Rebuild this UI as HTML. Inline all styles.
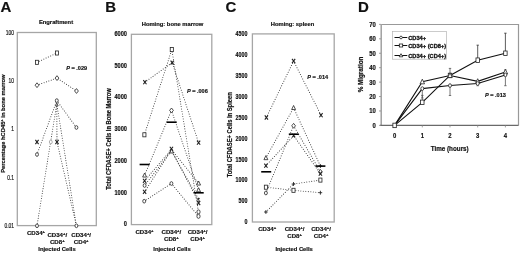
<!DOCTYPE html>
<html><head><meta charset="utf-8"><style>
html,body{margin:0;padding:0;background:#fff;width:520px;height:253px;overflow:hidden}
svg{display:block;filter:grayscale(1)}
text{font-family:"Liberation Sans",sans-serif;fill:#111;stroke:#111;stroke-width:0.18px}
</style></head><body>
<svg width="520" height="253" viewBox="0 0 520 253">
<text x="0.5" y="11.5" text-anchor="start" font-size="15" font-weight="bold" >A</text>
<text x="105.2" y="11.5" text-anchor="start" font-size="15" font-weight="bold" >B</text>
<text x="225.4" y="11.5" text-anchor="start" font-size="15" font-weight="bold" >C</text>
<text x="358.1" y="11.5" text-anchor="start" font-size="15" font-weight="bold" >D</text>
<text x="56" y="23.9" text-anchor="middle" font-size="5.8" font-weight="bold" >Engraftment</text>
<rect x="17.3" y="32.5" width="79.0" height="193.1" fill="none" stroke="#a6a6a6" stroke-width="1.3"/>
<text transform="translate(14 34.9) scale(0.74 1)" text-anchor="end" font-size="6.7" font-weight="normal">100</text>
<text transform="translate(14 83.2) scale(0.74 1)" text-anchor="end" font-size="6.7" font-weight="normal">10</text>
<text transform="translate(14 131.4) scale(0.74 1)" text-anchor="end" font-size="6.7" font-weight="normal">1</text>
<text transform="translate(14 179.6) scale(0.74 1)" text-anchor="end" font-size="6.7" font-weight="normal">0.1</text>
<text transform="translate(14 227.9) scale(0.74 1)" text-anchor="end" font-size="6.7" font-weight="normal">0.01</text>
<text x="0" y="0" text-anchor="middle" font-size="5.8" font-weight="bold" transform="translate(5.2 123.7) rotate(-90)">Percentage hCD45<tspan font-size="4" dy="-2">+</tspan><tspan dy="2"> in bone marrow</tspan></text>
<path d="M37 62.3L57 53" fill="none" stroke="#3a3a3a" stroke-width="1.05" stroke-linecap="round" stroke-dasharray="0.01 2.5"/>
<path d="M37 85.2L57 78.1L76.5 91" fill="none" stroke="#3a3a3a" stroke-width="1.05" stroke-linecap="round" stroke-dasharray="0.01 2.5"/>
<path d="M37 154.5L56.8 100.6L76.4 127.5" fill="none" stroke="#3a3a3a" stroke-width="1.05" stroke-linecap="round" stroke-dasharray="0.01 2.5"/>
<path d="M37 225.8L56.8 104L76.4 225.8" fill="none" stroke="#3a3a3a" stroke-width="1.05" stroke-linecap="round" stroke-dasharray="0.01 2.5"/>
<path d="M56.8 104L57 142L76.4 225.8" fill="none" stroke="#3a3a3a" stroke-width="1.05" stroke-linecap="round" stroke-dasharray="0.01 2.5"/>
<rect x="35.43" y="60.27" width="3.13" height="4.07" fill="#fff" stroke="#222" stroke-width="0.8"/>
<rect x="55.43" y="50.97" width="3.13" height="4.07" fill="#fff" stroke="#222" stroke-width="0.8"/>
<path d="M37 82.80L38.88 85.2L37 87.61L35.12 85.2Z" fill="#fff" stroke="#222" stroke-width="0.8"/>
<path d="M57 75.69L58.88 78.1L57 80.50L55.12 78.1Z" fill="#fff" stroke="#222" stroke-width="0.8"/>
<path d="M76.5 88.59L78.39 91L76.5 93.41L74.61 91Z" fill="#fff" stroke="#222" stroke-width="0.8"/>
<path d="M56.8 102.98L58.17 105.83L55.43 105.83Z" fill="#fff" stroke="#333" stroke-width="0.8" stroke-linejoin="round"/>
<ellipse cx="56.8" cy="100.6" rx="1.45" ry="1.85" fill="#fff" stroke="#222" stroke-width="0.8"/>
<ellipse cx="76.4" cy="127.5" rx="1.45" ry="1.85" fill="#fff" stroke="#222" stroke-width="0.8"/>
<ellipse cx="37" cy="154.5" rx="1.45" ry="1.85" fill="#fff" stroke="#222" stroke-width="0.8"/>
<ellipse cx="37" cy="225.8" rx="1.45" ry="1.85" fill="#fff" stroke="#222" stroke-width="0.8"/>
<ellipse cx="76.4" cy="225.8" rx="1.45" ry="1.85" fill="#fff" stroke="#222" stroke-width="0.8"/>
<path d="M35.41 139.97L38.59 144.03M38.59 139.97L35.41 144.03" fill="none" stroke="#222" stroke-width="1.12"/>
<path d="M55.41 139.97L58.59 144.03M58.59 139.97L55.41 144.03" fill="none" stroke="#222" stroke-width="1.12"/>
<ellipse cx="50.8" cy="142" rx="1.45" ry="1.85" fill="#fff" stroke="#999" stroke-width="0.8"/>
<text transform="translate(66.2 69.6) scale(0.9 1)" text-anchor="start" font-size="6.2" font-weight="bold"><tspan font-style="italic">P</tspan> = .029</text>
<text x="36" y="235.1" text-anchor="middle" font-size="6.1" font-weight="bold" >CD34<tspan font-size="4.2" dy="-2.1">+</tspan></text>
<text x="57.3" y="237.4" text-anchor="middle" font-size="6.1" font-weight="bold" >CD34<tspan font-size="4.2" dy="-2.1">+</tspan><tspan dy="2.1">/</tspan></text>
<text x="57.3" y="244.3" text-anchor="middle" font-size="6.1" font-weight="bold" >CD8<tspan font-size="4.2" dy="-2.1">+</tspan></text>
<text x="81.2" y="237.4" text-anchor="middle" font-size="6.1" font-weight="bold" >CD34<tspan font-size="4.2" dy="-2.1">+</tspan><tspan dy="2.1">/</tspan></text>
<text x="81.2" y="244.3" text-anchor="middle" font-size="6.1" font-weight="bold" >CD4<tspan font-size="4.2" dy="-2.1">+</tspan></text>
<text x="57" y="250.8" text-anchor="middle" font-size="5.8" font-weight="bold" >Injected Cells</text>
<text x="172.5" y="25.8" text-anchor="middle" font-size="5.8" font-weight="bold" >Homing: bone marrow</text>
<rect x="131.4" y="34.3" width="80.4" height="190.3" fill="none" stroke="#a6a6a6" stroke-width="1.3"/>
<text transform="translate(126.9 226.3) scale(0.84 1)" text-anchor="end" font-size="6.7" font-weight="bold">0</text>
<text transform="translate(126.9 194.58) scale(0.84 1)" text-anchor="end" font-size="6.7" font-weight="bold">1000</text>
<text transform="translate(126.9 162.86) scale(0.84 1)" text-anchor="end" font-size="6.7" font-weight="bold">2000</text>
<text transform="translate(126.9 131.14000000000001) scale(0.84 1)" text-anchor="end" font-size="6.7" font-weight="bold">3000</text>
<text transform="translate(126.9 99.42) scale(0.84 1)" text-anchor="end" font-size="6.7" font-weight="bold">4000</text>
<text transform="translate(126.9 67.7) scale(0.84 1)" text-anchor="end" font-size="6.7" font-weight="bold">5000</text>
<text transform="translate(126.9 35.980000000000004) scale(0.84 1)" text-anchor="end" font-size="6.7" font-weight="bold">6000</text>
<text x="0" y="0" text-anchor="middle" font-size="6.6" font-weight="bold" transform="translate(110.9 139) rotate(-90) scale(0.87 1)">Total CFDASE+ Cells in Bone Marrow</text>
<path d="M144.4 134.8L171.8 49.6" fill="none" stroke="#3a3a3a" stroke-width="1.05" stroke-linecap="round" stroke-dasharray="0.01 2.5"/>
<path d="M144.9 82.2L172.2 62.6L198.6 142.7" fill="none" stroke="#3a3a3a" stroke-width="1.05" stroke-linecap="round" stroke-dasharray="0.01 2.5"/>
<path d="M144.6 175.3L171.5 110.4L198.6 190" fill="none" stroke="#3a3a3a" stroke-width="1.05" stroke-linecap="round" stroke-dasharray="0.01 2.5"/>
<path d="M144.6 180.8L171.4 149.5L198.6 183.3" fill="none" stroke="#3a3a3a" stroke-width="1.05" stroke-linecap="round" stroke-dasharray="0.01 2.5"/>
<path d="M144.6 185.5L171.4 151L198.6 199" fill="none" stroke="#3a3a3a" stroke-width="1.05" stroke-linecap="round" stroke-dasharray="0.01 2.5"/>
<path d="M144.6 191.8L171.4 150L198.6 202" fill="none" stroke="#3a3a3a" stroke-width="1.05" stroke-linecap="round" stroke-dasharray="0.01 2.5"/>
<path d="M144.2 201.2L171.4 183.5L198.6 216.5" fill="none" stroke="#3a3a3a" stroke-width="1.05" stroke-linecap="round" stroke-dasharray="0.01 2.5"/>
<path d="M171.8 49.6L198.6 212.5" fill="none" stroke="#3a3a3a" stroke-width="1.05" stroke-linecap="round" stroke-dasharray="0.01 2.5"/>
<rect x="142.83" y="132.77" width="3.13" height="4.07" fill="#fff" stroke="#222" stroke-width="0.8"/>
<rect x="170.23" y="47.56" width="3.13" height="4.07" fill="#fff" stroke="#222" stroke-width="0.8"/>
<path d="M143.31 80.17L146.50 84.23M146.50 80.17L143.31 84.23" fill="none" stroke="#222" stroke-width="1.12"/>
<path d="M170.60 60.56L173.79 64.64M173.79 60.56L170.60 64.64" fill="none" stroke="#222" stroke-width="1.12"/>
<path d="M197.00 140.66L200.19 144.73M200.19 140.66L197.00 144.73" fill="none" stroke="#222" stroke-width="1.12"/>
<path d="M171.5 108.00L173.38 110.4L171.5 112.81L169.62 110.4Z" fill="#fff" stroke="#222" stroke-width="0.8"/>
<path d="M144.6 172.99L146.56 177.06L142.64 177.06Z" fill="#fff" stroke="#222" stroke-width="0.8" stroke-linejoin="round"/>
<path d="M143.00 178.77L146.19 182.84M146.19 178.77L143.00 182.84" fill="none" stroke="#222" stroke-width="1.12"/>
<ellipse cx="144.6" cy="185.5" rx="1.45" ry="1.85" fill="#fff" stroke="#222" stroke-width="0.8"/>
<path d="M143.00 189.77L146.19 193.84M146.19 189.77L143.00 193.84" fill="none" stroke="#222" stroke-width="1.12"/>
<ellipse cx="144.2" cy="201.2" rx="1.45" ry="1.85" fill="#fff" stroke="#222" stroke-width="0.8"/>
<path d="M169.81 146.77L173.00 150.84M173.00 146.77L169.81 150.84" fill="none" stroke="#222" stroke-width="1.12"/>
<path d="M171.6 148.89L173.56 152.96L169.64 152.96Z" fill="#fff" stroke="#111" stroke-width="0.8" stroke-linejoin="round"/>
<ellipse cx="171.4" cy="183.5" rx="1.45" ry="1.85" fill="#fff" stroke="#222" stroke-width="0.8"/>
<path d="M198.6 180.99L200.56 185.06L196.64 185.06Z" fill="#fff" stroke="#222" stroke-width="0.8" stroke-linejoin="round"/>
<path d="M198.6 187.69L200.56 191.76L196.64 191.76Z" fill="#fff" stroke="#222" stroke-width="0.8" stroke-linejoin="round"/>
<path d="M197.73 198.19L199.47 200.41M199.47 198.19L197.73 200.41" fill="none" stroke="#222" stroke-width="1.12"/>
<path d="M197.00 200.97L200.19 205.03M200.19 200.97L197.00 205.03" fill="none" stroke="#222" stroke-width="1.12"/>
<ellipse cx="198.5" cy="211.9" rx="1.59" ry="2.04" fill="#fff" stroke="#222" stroke-width="0.8"/>
<ellipse cx="198.5" cy="216.3" rx="1.59" ry="2.04" fill="#fff" stroke="#222" stroke-width="0.8"/>
<path d="M139.6 164.5h10" stroke="#000" stroke-width="1.6"/>
<path d="M166.7 122.2h10" stroke="#000" stroke-width="1.6"/>
<path d="M193.7 192.8h10" stroke="#000" stroke-width="1.6"/>
<text transform="translate(186.9 92.8) scale(0.9 1)" text-anchor="start" font-size="6.2" font-weight="bold"><tspan font-style="italic">P</tspan> = .006</text>
<text x="144.5" y="234.3" text-anchor="middle" font-size="6.1" font-weight="bold" >CD34<tspan font-size="4.2" dy="-2.1">+</tspan></text>
<text x="171.4" y="234.3" text-anchor="middle" font-size="6.1" font-weight="bold" >CD34<tspan font-size="4.2" dy="-2.1">+</tspan><tspan dy="2.1">/</tspan></text>
<text x="171.4" y="241.2" text-anchor="middle" font-size="6.1" font-weight="bold" >CD8<tspan font-size="4.2" dy="-2.1">+</tspan></text>
<text x="197.6" y="234.3" text-anchor="middle" font-size="6.1" font-weight="bold" >CD34<tspan font-size="4.2" dy="-2.1">+</tspan><tspan dy="2.1">/</tspan></text>
<text x="197.6" y="241.2" text-anchor="middle" font-size="6.1" font-weight="bold" >CD4<tspan font-size="4.2" dy="-2.1">+</tspan></text>
<text x="172" y="250.6" text-anchor="middle" font-size="5.8" font-weight="bold" >Injected Cells</text>
<text x="292.5" y="25.8" text-anchor="middle" font-size="5.8" font-weight="bold" >Homing: spleen</text>
<rect x="252.4" y="33.9" width="81.79999999999998" height="188.1" fill="none" stroke="#a6a6a6" stroke-width="1.3"/>
<text transform="translate(247.5 224.2) scale(0.8 1)" text-anchor="end" font-size="6.7" font-weight="bold">0</text>
<text transform="translate(247.5 203.29999999999998) scale(0.8 1)" text-anchor="end" font-size="6.7" font-weight="bold">500</text>
<text transform="translate(247.5 182.39999999999998) scale(0.8 1)" text-anchor="end" font-size="6.7" font-weight="bold">1000</text>
<text transform="translate(247.5 161.5) scale(0.8 1)" text-anchor="end" font-size="6.7" font-weight="bold">1500</text>
<text transform="translate(247.5 140.6) scale(0.8 1)" text-anchor="end" font-size="6.7" font-weight="bold">2000</text>
<text transform="translate(247.5 119.7) scale(0.8 1)" text-anchor="end" font-size="6.7" font-weight="bold">2500</text>
<text transform="translate(247.5 98.80000000000001) scale(0.8 1)" text-anchor="end" font-size="6.7" font-weight="bold">3000</text>
<text transform="translate(247.5 77.90000000000002) scale(0.8 1)" text-anchor="end" font-size="6.7" font-weight="bold">3500</text>
<text transform="translate(247.5 57.000000000000014) scale(0.8 1)" text-anchor="end" font-size="6.7" font-weight="bold">4000</text>
<text transform="translate(247.5 36.10000000000001) scale(0.8 1)" text-anchor="end" font-size="6.7" font-weight="bold">4500</text>
<text x="0" y="0" text-anchor="middle" font-size="6.6" font-weight="bold" transform="translate(231.7 134.8) rotate(-90) scale(0.88 1)">Total CFDASE+ Cells in Spleen</text>
<path d="M266.4 117.5L293.6 61L321 115.2" fill="none" stroke="#3a3a3a" stroke-width="1.05" stroke-linecap="round" stroke-dasharray="0.01 2.5"/>
<path d="M265.9 157.9L293.6 107.8L320.4 166" fill="none" stroke="#3a3a3a" stroke-width="1.05" stroke-linecap="round" stroke-dasharray="0.01 2.5"/>
<path d="M265.9 165.7L293.7 135.6L320.4 173.7" fill="none" stroke="#3a3a3a" stroke-width="1.05" stroke-linecap="round" stroke-dasharray="0.01 2.5"/>
<path d="M265.9 193L293.6 125.8L320.4 171.8" fill="none" stroke="#3a3a3a" stroke-width="1.05" stroke-linecap="round" stroke-dasharray="0.01 2.5"/>
<path d="M265.9 187.2L293.5 190.3L320.4 192.7" fill="none" stroke="#3a3a3a" stroke-width="1.05" stroke-linecap="round" stroke-dasharray="0.01 2.5"/>
<path d="M265.9 212L293.5 184L320.4 180.1" fill="none" stroke="#3a3a3a" stroke-width="1.05" stroke-linecap="round" stroke-dasharray="0.01 2.5"/>
<path d="M264.80 115.47L268.00 119.53M268.00 115.47L264.80 119.53" fill="none" stroke="#222" stroke-width="1.12"/>
<path d="M292.00 58.97L295.20 63.03M295.20 58.97L292.00 63.03" fill="none" stroke="#222" stroke-width="1.12"/>
<path d="M319.40 113.17L322.60 117.23M322.60 113.17L319.40 117.23" fill="none" stroke="#222" stroke-width="1.12"/>
<path d="M293.6 105.49L295.56 109.56L291.64 109.56Z" fill="#fff" stroke="#222" stroke-width="0.8" stroke-linejoin="round"/>
<path d="M293.6 123.39L295.49 125.8L293.6 128.20L291.72 125.8Z" fill="#fff" stroke="#222" stroke-width="0.8"/>
<path d="M265.9 155.59L267.86 159.66L263.94 159.66Z" fill="#fff" stroke="#222" stroke-width="0.8" stroke-linejoin="round"/>
<path d="M264.30 163.66L267.50 167.73M267.50 163.66L264.30 167.73" fill="none" stroke="#222" stroke-width="1.12"/>
<rect x="264.33" y="185.16" width="3.13" height="4.07" fill="#fff" stroke="#222" stroke-width="0.8"/>
<ellipse cx="265.9" cy="193" rx="1.45" ry="1.85" fill="#fff" stroke="#222" stroke-width="0.8"/>
<path d="M264.09 212h3.62M265.9 210.06v3.89" fill="none" stroke="#222" stroke-width="0.88"/>
<path d="M291.69 184h3.62M293.5 182.06v3.89" fill="none" stroke="#222" stroke-width="0.88"/>
<rect x="291.93" y="188.27" width="3.13" height="4.07" fill="#fff" stroke="#222" stroke-width="0.8"/>
<path d="M292.25 133.75L295.15 137.45M295.15 133.75L292.25 137.45" fill="none" stroke="#222" stroke-width="1.12"/>
<path d="M318.59 166h3.62M320.4 164.06v3.89" fill="none" stroke="#222" stroke-width="0.88"/>
<path d="M320.4 169.40L322.28 171.8L320.4 174.21L318.51 171.8Z" fill="#fff" stroke="#222" stroke-width="0.8"/>
<path d="M318.80 171.66L322.00 175.73M322.00 171.66L318.80 175.73" fill="none" stroke="#222" stroke-width="1.12"/>
<rect x="318.83" y="178.06" width="3.13" height="4.07" fill="#fff" stroke="#222" stroke-width="0.8"/>
<path d="M318.59 192.7h3.62M320.4 190.76v3.89" fill="none" stroke="#222" stroke-width="0.88"/>
<path d="M261.2 171.8h10" stroke="#000" stroke-width="1.6"/>
<path d="M288.8 134.2h10" stroke="#000" stroke-width="1.6"/>
<path d="M315.4 166.1h10" stroke="#000" stroke-width="1.6"/>
<text transform="translate(307.2 79) scale(0.9 1)" text-anchor="start" font-size="6.2" font-weight="bold"><tspan font-style="italic">P</tspan> = .014</text>
<text x="267.2" y="230.8" text-anchor="middle" font-size="6.1" font-weight="bold" >CD34<tspan font-size="4.2" dy="-2.1">+</tspan></text>
<text x="294.6" y="230.8" text-anchor="middle" font-size="6.1" font-weight="bold" >CD34<tspan font-size="4.2" dy="-2.1">+</tspan><tspan dy="2.1">/</tspan></text>
<text x="294.6" y="238.1" text-anchor="middle" font-size="6.1" font-weight="bold" >CD8<tspan font-size="4.2" dy="-2.1">+</tspan></text>
<text x="321.1" y="230.8" text-anchor="middle" font-size="6.1" font-weight="bold" >CD34<tspan font-size="4.2" dy="-2.1">+</tspan><tspan dy="2.1">/</tspan></text>
<text x="321.1" y="238.1" text-anchor="middle" font-size="6.1" font-weight="bold" >CD4<tspan font-size="4.2" dy="-2.1">+</tspan></text>
<text x="294.1" y="250.5" text-anchor="middle" font-size="5.8" font-weight="bold" >Injected Cells</text>
<path d="M381.2 24.5H518.5V125.4" fill="none" stroke="#999" stroke-width="1.2"/>
<path d="M381.2 24.5V125.4" fill="none" stroke="#9a9a9a" stroke-width="1.4"/>
<path d="M380 125.4H518.5" fill="none" stroke="#6a6a6a" stroke-width="1.3"/>
<path d="M379 125.4h2" stroke="#8a8a8a" stroke-width="0.8"/>
<text transform="translate(375.9 127.80000000000001) scale(0.87 1)" text-anchor="end" font-size="6.8" font-weight="bold">0</text>
<path d="M379 110.97h2" stroke="#8a8a8a" stroke-width="0.8"/>
<text transform="translate(375.9 113.37) scale(0.87 1)" text-anchor="end" font-size="6.8" font-weight="bold">10</text>
<path d="M379 96.54h2" stroke="#8a8a8a" stroke-width="0.8"/>
<text transform="translate(375.9 98.94000000000001) scale(0.87 1)" text-anchor="end" font-size="6.8" font-weight="bold">20</text>
<path d="M379 82.11000000000001h2" stroke="#8a8a8a" stroke-width="0.8"/>
<text transform="translate(375.9 84.51000000000002) scale(0.87 1)" text-anchor="end" font-size="6.8" font-weight="bold">30</text>
<path d="M379 67.68h2" stroke="#8a8a8a" stroke-width="0.8"/>
<text transform="translate(375.9 70.08000000000001) scale(0.87 1)" text-anchor="end" font-size="6.8" font-weight="bold">40</text>
<path d="M379 53.25h2" stroke="#8a8a8a" stroke-width="0.8"/>
<text transform="translate(375.9 55.65) scale(0.87 1)" text-anchor="end" font-size="6.8" font-weight="bold">50</text>
<path d="M379 38.82000000000001h2" stroke="#8a8a8a" stroke-width="0.8"/>
<text transform="translate(375.9 41.220000000000006) scale(0.87 1)" text-anchor="end" font-size="6.8" font-weight="bold">60</text>
<path d="M379 24.39h2" stroke="#8a8a8a" stroke-width="0.8"/>
<text transform="translate(375.9 26.79) scale(0.87 1)" text-anchor="end" font-size="6.8" font-weight="bold">70</text>
<path d="M394.6 125.4v2" stroke="#8a8a8a" stroke-width="0.8"/>
<text transform="translate(394.6 138.4) scale(0.87 1)" text-anchor="middle" font-size="6.8" font-weight="bold">0</text>
<path d="M422.3 125.4v2" stroke="#8a8a8a" stroke-width="0.8"/>
<text transform="translate(422.3 138.4) scale(0.87 1)" text-anchor="middle" font-size="6.8" font-weight="bold">1</text>
<path d="M450.0 125.4v2" stroke="#8a8a8a" stroke-width="0.8"/>
<text transform="translate(450.0 138.4) scale(0.87 1)" text-anchor="middle" font-size="6.8" font-weight="bold">2</text>
<path d="M477.70000000000005 125.4v2" stroke="#8a8a8a" stroke-width="0.8"/>
<text transform="translate(477.70000000000005 138.4) scale(0.87 1)" text-anchor="middle" font-size="6.8" font-weight="bold">3</text>
<path d="M505.40000000000003 125.4v2" stroke="#8a8a8a" stroke-width="0.8"/>
<text transform="translate(505.40000000000003 138.4) scale(0.87 1)" text-anchor="middle" font-size="6.8" font-weight="bold">4</text>
<text x="449.7" y="151" text-anchor="middle" font-size="6.3" font-weight="bold" >Time (hours)</text>
<text x="0" y="0" text-anchor="middle" font-size="6.3" font-weight="bold" transform="translate(362.7 74.5) rotate(-90)">% Migration</text>
<path d="M477.7 60.47V45.17M476.5 45.17h2.4" stroke="#333" stroke-width="0.8"/>
<path d="M505.4 53.25V33.19M504.2 33.19h2.4" stroke="#333" stroke-width="0.8"/>
<path d="M450.0 75.47V68.40M448.8 68.40h2.4" stroke="#555" stroke-width="0.8"/>
<path d="M450.0 85.57V95.53M448.8 95.53h2.4" stroke="#555" stroke-width="0.8"/>
<path d="M422.3 102.31V95.39M421.1 95.39h2.4" stroke="#555" stroke-width="0.8"/>
<path d="M422.3 88.6V97.98M421.1 97.98h2.4" stroke="#555" stroke-width="0.8"/>
<path d="M505.4 74.9V85.72M504.2 85.72h2.4" stroke="#555" stroke-width="0.8"/>
<path d="M477.7 83.55V85.72M476.5 85.72h2.4" stroke="#555" stroke-width="0.8"/>
<path d="M505.4 72.01V69.84M504.2 69.84h2.4" stroke="#555" stroke-width="0.8"/>
<path d="M394.6 125.4L422.3 102.31L450.0 75.47L477.7 60.18L505.4 53.25" fill="none" stroke="#111" stroke-width="1.1"/>
<path d="M394.6 125.4L422.3 81.82L450.0 75.47L477.7 81.39L505.4 72.01" fill="none" stroke="#111" stroke-width="1.1"/>
<path d="M394.6 125.4L422.3 88.6L450.0 85.57L477.7 83.55L505.4 74.9" fill="none" stroke="#111" stroke-width="1.1"/>
<rect x="392.88" y="123.16" width="3.45" height="4.48" fill="#fff" stroke="#222" stroke-width="0.8"/>
<rect x="420.58" y="100.07" width="3.45" height="4.48" fill="#fff" stroke="#222" stroke-width="0.8"/>
<rect x="448.28" y="73.23" width="3.45" height="4.48" fill="#fff" stroke="#222" stroke-width="0.8"/>
<rect x="475.98" y="57.94" width="3.45" height="4.48" fill="#fff" stroke="#222" stroke-width="0.8"/>
<rect x="503.68" y="51.01" width="3.45" height="4.48" fill="#fff" stroke="#222" stroke-width="0.8"/>
<path d="M422.3 79.16L424.55 83.84L420.05 83.84Z" fill="#fff" stroke="#222" stroke-width="0.8" stroke-linejoin="round"/>
<path d="M450.0 72.81L452.25 77.49L447.75 77.49Z" fill="#fff" stroke="#222" stroke-width="0.8" stroke-linejoin="round"/>
<path d="M477.7 78.73L479.95 83.41L475.45 83.41Z" fill="#fff" stroke="#222" stroke-width="0.8" stroke-linejoin="round"/>
<path d="M505.4 69.35L507.65 74.03L503.15 74.03Z" fill="#fff" stroke="#222" stroke-width="0.8" stroke-linejoin="round"/>
<ellipse cx="422.3" cy="88.6" rx="1.45" ry="1.85" fill="#fff" stroke="#222" stroke-width="0.8"/>
<ellipse cx="450.0" cy="85.57" rx="1.45" ry="1.85" fill="#fff" stroke="#222" stroke-width="0.8"/>
<ellipse cx="477.7" cy="83.55" rx="1.45" ry="1.85" fill="#fff" stroke="#222" stroke-width="0.8"/>
<ellipse cx="505.4" cy="74.9" rx="1.45" ry="1.85" fill="#fff" stroke="#222" stroke-width="0.8"/>
<rect x="392.5" y="31.5" width="54.10000000000002" height="27.700000000000003" fill="none" stroke="#b5b5b5" stroke-width="0.7"/>
<path d="M394.5 37.5H407.3" stroke="#111" stroke-width="1"/>
<circle cx="401" cy="37.5" r="1.35" fill="#fff" stroke="#111" stroke-width="0.75"/>
<text x="408.2" y="39.5" text-anchor="start" font-size="5.7" font-weight="bold" style="stroke-width:0.3px">CD34+</text>
<path d="M394.5 45.5H407.3" stroke="#111" stroke-width="1"/>
<rect x="399.3" y="44.0" width="3.4" height="3" fill="#fff" stroke="#111" stroke-width="0.75"/>
<text x="408.2" y="47.5" text-anchor="start" font-size="5.7" font-weight="bold" style="stroke-width:0.3px">CD34+ (CD8+)</text>
<path d="M394.5 55.5H407.3" stroke="#111" stroke-width="1"/>
<path d="M401 53.7L402.8 56.8L399.2 56.8Z" fill="#fff" stroke="#111" stroke-width="0.75"/>
<text x="408.2" y="57.5" text-anchor="start" font-size="5.7" font-weight="bold" style="stroke-width:0.3px">CD34+ (CD4+)</text>
<text transform="translate(485 97.3) scale(0.9 1)" text-anchor="start" font-size="6.2" font-weight="bold"><tspan font-style="italic">P</tspan> = .013</text>
</svg>
</body></html>
